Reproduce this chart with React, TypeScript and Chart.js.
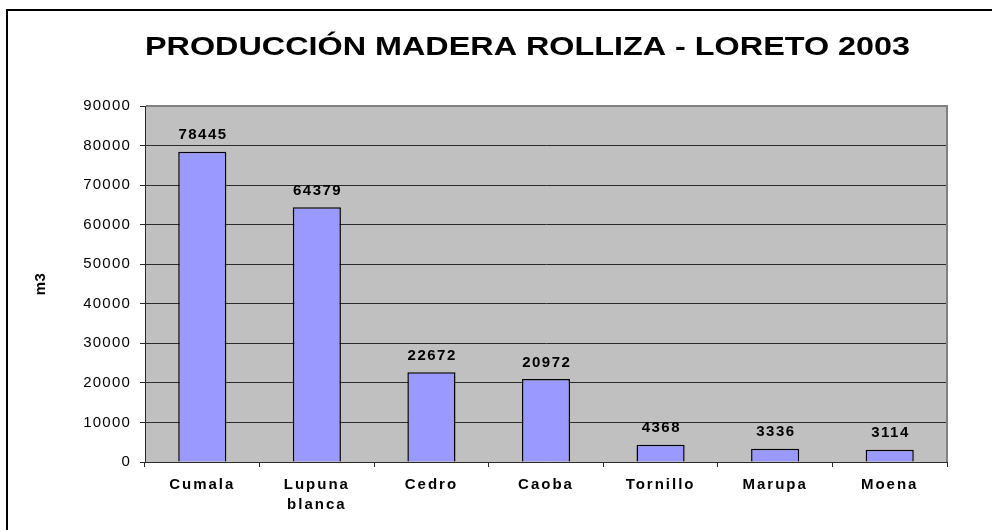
import React, { useEffect, useRef } from 'react';
import { Chart, registerables } from 'chart.js';

Chart.register(...registerables);

const TITLE = 'PRODUCCIÓN MADERA ROLLIZA - LORETO 2003';
const Y_TITLE = 'm3';
const categories: string[][] = [['Cumala'], ['Lupuna', 'blanca'], ['Cedro'], ['Caoba'], ['Tornillo'], ['Marupa'], ['Moena']];
const volumes: number[] = [78445, 64379, 22672, 20972, 4368, 3336, 3114];
const Y_MIN = 0;
const Y_MAX = 90000;
const Y_STEP = 10000;

const FONT = 'Arial, "Liberation Sans", sans-serif';

const decorPlugin = {
  id: 'decor',
  beforeDraw(chart: any) {
    const { ctx, chartArea: a } = chart;
    ctx.save();
    ctx.fillStyle = '#ffffff';
    ctx.fillRect(0, 0, chart.width, chart.height);
    ctx.fillStyle = '#c0c0c0';
    ctx.fillRect(a.left, a.top, a.right - a.left, a.bottom - a.top);
    ctx.fillStyle = '#000000';
    ctx.fillRect(6, 9, 2, chart.height);
    ctx.fillRect(6, 9, chart.width, 2);
    ctx.restore();
    const xs = chart.scales.x;
    if (!xs.__patched) {
      const orig = xs.drawLabels;
      xs.drawLabels = function (area: any) {
        const prev = ctx.letterSpacing;
        ctx.letterSpacing = '2px';
        orig.call(this, area);
        ctx.letterSpacing = prev;
      };
      xs.__patched = true;
    }
    ctx.letterSpacing = '1.2px';
  },
  afterDatasetsDraw(chart: any) {
    const { ctx } = chart;
    const meta = chart.getDatasetMeta(0);
    ctx.save();
    ctx.font = `bold 15px ${FONT}`;
    ctx.letterSpacing = '1.5px';
    ctx.fillStyle = '#000';
    ctx.textAlign = 'center';
    ctx.textBaseline = 'alphabetic';
    meta.data.forEach((el: any, i: number) => {
      ctx.fillText(String(volumes[i]), el.x + 0.75, el.y - 12.5);
    });
    ctx.restore();
  },
  afterDraw(chart: any) {
    const { ctx, chartArea: a } = chart;
    ctx.save();
    ctx.letterSpacing = '0px';
    ctx.fillStyle = '#808080';
    ctx.fillRect(a.left + 1, a.top - 1, a.right - a.left, 2);
    ctx.fillRect(a.right - 1, a.top - 1, 2, a.bottom - a.top + 1);
    ctx.fillStyle = '#000';
    ctx.font = `bold 26px ${FONT}`;
    const w = ctx.measureText(TITLE).width;
    ctx.translate(527.5, 55);
    ctx.scale(765 / w, 1);
    ctx.textAlign = 'center';
    ctx.textBaseline = 'alphabetic';
    ctx.fillText(TITLE, 0, 0);
    ctx.restore();
    ctx.save();
    ctx.letterSpacing = '0.5px';
    ctx.fillStyle = '#000';
    ctx.font = `bold 15px ${FONT}`;
    ctx.translate(41, 284);
    ctx.rotate(-Math.PI / 2);
    ctx.textAlign = 'center';
    ctx.textBaseline = 'middle';
    ctx.fillText(Y_TITLE, 0, 0);
    ctx.restore();
  },
};

export default function App() {
  const ref = useRef<HTMLCanvasElement>(null);
  useEffect(() => {
    const chart = new Chart(ref.current as HTMLCanvasElement, {
      type: 'bar',
      data: {
        labels: categories,
        datasets: [
          {
            data: volumes,
            backgroundColor: '#9999ff',
            borderColor: '#000000',
            borderWidth: 1.5,
            barPercentage: 0.42,
            categoryPercentage: 1,
          },
        ],
      },
      options: {
        responsive: false,
        animation: false,
        devicePixelRatio: 1,
        layout: { padding: { top: 106, right: 45, bottom: 0, left: 0 } },
        plugins: {
          legend: { display: false },
          title: { display: false },
          tooltip: { enabled: false },
        },
        scales: {
          x: {
            grid: { offset: true, drawOnChartArea: false, drawTicks: true, tickLength: 5, color: '#2a2a2a' },
            border: { color: '#2a2a2a', width: 1 },
            ticks: {
              color: '#000',
              font: { family: FONT, size: 15, weight: 'bold', lineHeight: 1.333 },
              padding: 8,
              maxRotation: 0,
              autoSkip: false,
            },
            afterFit(s: any) {
              s.height = 68;
            },
          },
          y: {
            min: Y_MIN,
            max: Y_MAX,
            grid: { color: '#2a2a2a', tickLength: 5 },
            border: { color: '#2a2a2a', width: 1 },
            ticks: {
              stepSize: Y_STEP,
              color: '#000',
              font: { family: FONT, size: 15 },
              padding: 9,
              callback: (v: any) => String(v),
            },
            afterFit(s: any) {
              s.width = 145;
            },
          },
        },
      },
      plugins: [decorPlugin],
    } as any);
    return () => chart.destroy();
  }, []);
  return (
    <div style={{ position: 'fixed', left: 0, top: 0, width: 992, height: 530, background: '#fff' }}>
      <canvas ref={ref} width={992} height={530} style={{ width: 992, height: 530, display: 'block' }} />
    </div>
  );
}
